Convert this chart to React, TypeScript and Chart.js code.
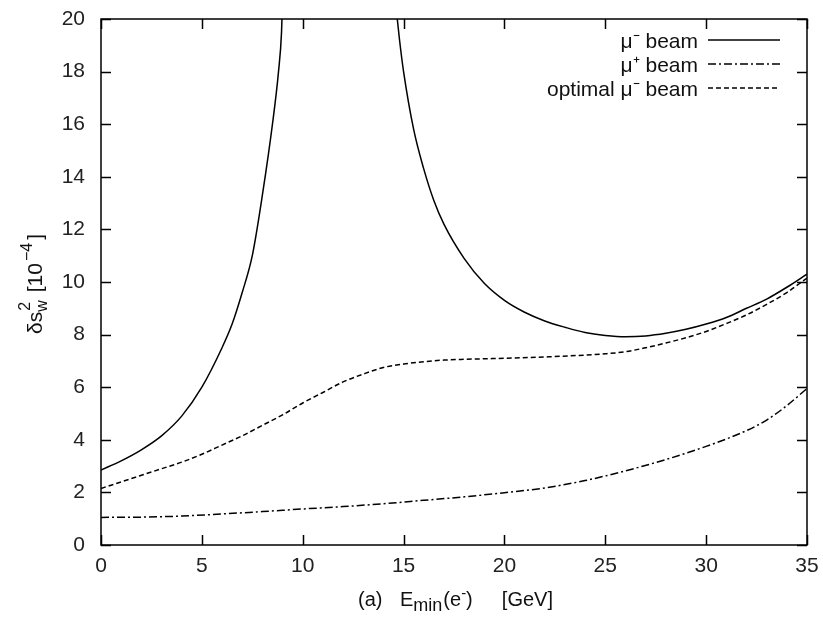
import React, { useEffect, useRef } from 'react';
import { Chart, registerables } from 'chart.js';

Chart.register(...registerables);

// x values [GeV] and y values [10^-4]
const muMinusX = [0, 1, 2, 3, 4, 5, 6, 6.5, 7, 7.5, 8, 8.5, 8.8, 8.95, 9.05, null, 14.55, 14.8, 15.0, 15.5, 16.0, 16.5, 17.0, 18.0, 19.0, 20.0, 21.0, 22.0, 23.0, 24.0, 25.0, 26.0, 27.0, 28.0, 29.0, 30.0, 31.0, 32.0, 33.0, 34.0, 35.0];
const muMinusY = [2.85, 3.2, 3.62, 4.15, 4.9, 6.0, 7.5, 8.4, 9.6, 11.0, 13.3, 16.0, 18.0, 19.5, 22, null, 21, 19.2, 18.0, 15.8, 14.3, 13.1, 12.2, 10.9, 9.95, 9.3, 8.85, 8.52, 8.28, 8.08, 7.97, 7.92, 7.95, 8.05, 8.2, 8.4, 8.65, 9.0, 9.35, 9.8, 10.3];

const muPlusX = [0, 2, 4, 6, 8, 10, 12, 14, 16, 18, 20, 22, 24, 26, 28, 30, 32, 33, 34, 35];
const muPlusY = [1.05, 1.06, 1.1, 1.18, 1.27, 1.37, 1.46, 1.57, 1.7, 1.83, 1.99, 2.17, 2.45, 2.82, 3.25, 3.75, 4.35, 4.75, 5.3, 5.95];

const optimalX = [0, 1, 2, 3, 4, 5, 6, 7, 8, 9, 10, 11, 12, 13, 14, 15, 16, 17, 18, 20, 22, 24, 25, 26, 27, 28, 29, 30, 31, 32, 33, 34, 35];
const optimalY = [2.15, 2.4, 2.65, 2.9, 3.15, 3.45, 3.8, 4.15, 4.55, 4.95, 5.4, 5.8, 6.2, 6.5, 6.75, 6.88, 6.97, 7.03, 7.06, 7.1, 7.15, 7.22, 7.27, 7.35, 7.5, 7.68, 7.88, 8.12, 8.42, 8.75, 9.15, 9.6, 10.15];

const seriesLabels = ['μ⁻ beam', 'μ⁺ beam', 'optimal μ⁻ beam'];
const xTicks = [0, 5, 10, 15, 20, 25, 30, 35];
const yTicks = [0, 2, 4, 6, 8, 10, 12, 14, 16, 18, 20];

const FONT = '"Liberation Sans", Arial, Helvetica, sans-serif';

function toPoints(xs: (number | null)[], ys: (number | null)[]) {
  return xs.map((x, i) => ({ x: x === null ? NaN : x, y: ys[i] }));
}

const framePlugin = {
  id: 'gnuplotFrame',
  afterDraw(chart: any) {
    const ctx = chart.ctx as CanvasRenderingContext2D;
    const { left, right, top, bottom } = chart.chartArea;
    const xs = chart.scales.x;
    const ys = chart.scales.y;
    ctx.save();
    ctx.strokeStyle = '#000';
    ctx.lineWidth = 1.5;
    ctx.setLineDash([]);
    ctx.strokeRect(left, top, right - left, bottom - top);
    const tl = 10;
    ctx.beginPath();
    xTicks.forEach((v) => {
      const px = Math.round(xs.getPixelForValue(v)) + 0.5;
      ctx.moveTo(px, bottom);
      ctx.lineTo(px, bottom - tl);
      ctx.moveTo(px, top);
      ctx.lineTo(px, top + tl);
    });
    yTicks.forEach((v) => {
      const py = Math.round(ys.getPixelForValue(v)) + 0.5;
      ctx.moveTo(left, py);
      ctx.lineTo(left + tl, py);
      ctx.moveTo(right, py);
      ctx.lineTo(right - tl, py);
    });
    ctx.stroke();

    // legend (text right-aligned, line sample on the right, gnuplot style)
    ctx.fillStyle = '#111';
    ctx.font = `21px ${FONT}`;
    ctx.textAlign = 'right';
    ctx.textBaseline = 'middle';
    const textRight = 698;
    const sampleL = 708;
    const sampleR = 780;
    const rowY = [40, 64, 88];
    chart.data.datasets.forEach((ds: any, i: number) => {
      const y = rowY[i];
      ctx.fillText(ds.label, textRight, y + 2);
      ctx.beginPath();
      ctx.lineWidth = ds.borderWidth;
      ctx.setLineDash(ds.borderDash || []);
      ctx.moveTo(sampleL, y);
      ctx.lineTo(sampleR, y);
      ctx.stroke();
    });
    ctx.setLineDash([]);

    // x-axis title: (a)  E_min(e⁻)  [GeV]
    const big = `20px ${FONT}`;
    const sub = `18px ${FONT}`;
    const sup = `15px ${FONT}`;
    const base = 606;
    ctx.textAlign = 'left';
    ctx.textBaseline = 'alphabetic';
    ctx.font = big;
    ctx.fillText('(a)', 358, base);
    let x = 400;
    ctx.fillText('E', x, base);
    x += ctx.measureText('E').width;
    ctx.font = sub;
    ctx.fillText('min', x, base + 5);
    x += ctx.measureText('min').width + 1;
    ctx.font = big;
    ctx.fillText('(e', x, base);
    x += ctx.measureText('(e').width;
    ctx.font = sup;
    ctx.fillText('-', x, base - 8);
    x += ctx.measureText('-').width;
    ctx.font = big;
    ctx.fillText(')', x, base);
    ctx.textAlign = 'right';
    ctx.fillText('[GeV]', 553, base);

    // y-axis title: δs_w^2 [10^-4], rotated, reading bottom to top
    const ybig = `21px ${FONT}`;
    const ysmall = `16px ${FONT}`;
    ctx.save();
    ctx.translate(42, 334);
    ctx.rotate(-Math.PI / 2);
    ctx.textAlign = 'left';
    let yx = 0;
    ctx.font = ybig;
    ctx.fillText('δs', yx, 0);
    yx += ctx.measureText('δs').width;
    ctx.font = ysmall;
    ctx.fillText('w', yx, 5);
    ctx.fillText('2', yx + 1, -12);
    yx += ctx.measureText('w').width + 8;
    ctx.font = ybig;
    ctx.fillText('[10', yx, 0);
    yx += ctx.measureText('[10').width + 2;
    ctx.font = ysmall;
    ctx.fillText('−4', yx, -10);
    yx += ctx.measureText('−4').width + 3;
    ctx.font = ybig;
    ctx.fillText(']', yx, 0);
    ctx.restore();

    ctx.restore();
  },
};

export default function App() {
  const ref = useRef<HTMLCanvasElement | null>(null);
  useEffect(() => {
    if (!ref.current) return;
    const chart = new Chart(ref.current, {
      type: 'line',
      data: {
        datasets: [
          {
            label: seriesLabels[0],
            data: toPoints(muMinusX, muMinusY),
            borderColor: '#000',
            borderWidth: 1.5,
            pointRadius: 0,
            cubicInterpolationMode: 'monotone',
            spanGaps: false,
          },
          {
            label: seriesLabels[1],
            data: toPoints(muPlusX, muPlusY),
            borderColor: '#000',
            borderWidth: 1.5,
            borderDash: [8, 3, 2, 3],
            pointRadius: 0,
            cubicInterpolationMode: 'monotone',
          },
          {
            label: seriesLabels[2],
            data: toPoints(optimalX, optimalY),
            borderColor: '#000',
            borderWidth: 1.5,
            borderDash: [5, 3],
            pointRadius: 0,
            cubicInterpolationMode: 'monotone',
          },
        ],
      } as any,
      options: {
        animation: false,
        responsive: false,
        devicePixelRatio: 1,
        parsing: false,
        layout: { padding: { left: 0, right: 16, top: 19, bottom: 0 } },
        plugins: { legend: { display: false }, tooltip: { enabled: false } },
        scales: {
          x: {
            type: 'linear',
            min: 0,
            max: 35,
            grid: { display: false, drawTicks: false },
            border: { display: false },
            afterBuildTicks: (s: any) => {
              s.ticks = xTicks.map((v) => ({ value: v }));
            },
            afterFit: (s: any) => {
              s.height = 72;
              s.paddingLeft = 0;
              s.paddingRight = 0;
            },
            ticks: {
              padding: 9,
              color: '#222',
              font: { family: FONT, size: 21 },
              maxRotation: 0,
            },
          },
          y: {
            type: 'linear',
            min: 0,
            max: 20,
            grid: { display: false, drawTicks: false },
            border: { display: false },
            afterBuildTicks: (s: any) => {
              s.ticks = yTicks.map((v) => ({ value: v }));
            },
            afterFit: (s: any) => {
              s.width = 101;
              s.paddingTop = 0;
              s.paddingBottom = 0;
            },
            ticks: {
              padding: 16,
              color: '#222',
              font: { family: FONT, size: 21 },
            },
          },
        },
      } as any,
      plugins: [framePlugin],
    });
    return () => chart.destroy();
  }, []);
  return (
    <div style={{ position: 'absolute', left: 0, top: 0, width: 823, height: 617, background: '#fff' }}>
      <canvas ref={ref} width={823} height={617} style={{ width: 823, height: 617, display: 'block' }} />
    </div>
  );
}
